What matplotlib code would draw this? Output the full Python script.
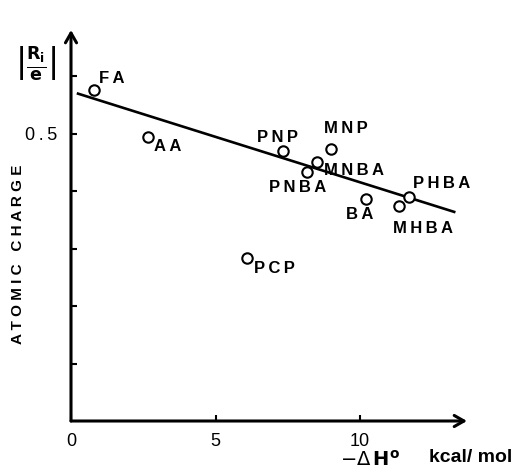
import matplotlib
matplotlib.use("Agg")
import matplotlib.pyplot as plt

plt.rcParams['font.family'] = ['Liberation Sans', 'DejaVu Sans']

############## Data ######################################
names = ['FA', 'AA', 'PNP', 'MNP', 'MNBA', 'PNBA', 'BA', 'PHBA', 'MHBA', 'PCP']
dH = [0.8, 2.65, 7.35, 9.0, 8.5, 8.15, 10.2, 11.7, 11.35, 6.1]
charge = [0.576, 0.494, 0.470, 0.473, 0.450, 0.433, 0.386, 0.390, 0.374, 0.283]

# fitted line end points
fit_x = [0.2, 13.3]
fit_y = [0.570, 0.363]

# label offsets (pixels) from each point
offsets = {'FA': (18, 11), 'AA': (20, -10), 'PNP': (-6, 13), 'MNP': (15, 21),
           'MNBA': (37, -8), 'PNBA': (-9, -15), 'BA': (-6, -15),
           'PHBA': (32, 13), 'MHBA': (24, -23), 'PCP': (27, -10)}

xticks = [0, 5, 10]
yticks = [0.1, 0.2, 0.3, 0.4, 0.5, 0.6]

def spaced(s, sep='\u2009'):
    return sep.join(s)

#################### Plot #############################
fig = plt.figure(figsize=(5.15, 4.75), dpi=100)
ax = fig.add_axes([71/515, 54/475, (467-71)/515, (421-30)/475])
ax.set_xlim(0, 13.7)
ax.set_ylim(0, 0.68)

for s in ax.spines.values():
    s.set_visible(False)

# axes drawn as arrows
arrow = dict(arrowstyle='->,head_length=0.7,head_width=0.4', lw=2.2, color='black',
             shrinkA=0, shrinkB=0)
ax.annotate('', xy=(1, 0), xytext=(0, 0), xycoords='axes fraction', arrowprops=arrow)
ax.annotate('', xy=(0, 1), xytext=(0, 0), xycoords='axes fraction', arrowprops=arrow)

ax.plot(fit_x, fit_y, color='black', lw=1.9, solid_capstyle='butt')
ax.plot(dH, charge, 'o', ms=7.5, mfc='white', mec='black', mew=1.5, zorder=3)

for n, x, y in zip(names, dH, charge):
    dx, dy = offsets[n]
    ax.annotate(spaced(n), (x, y), xytext=(dx, dy), textcoords='offset pixels',
                ha='center', va='center', fontsize=12, fontweight='bold')

ax.set_xticks(xticks)
ax.set_xticklabels(['0', '5', '10'], fontsize=13)
ax.set_yticks(yticks)
ax.set_yticklabels(['', '', '', '', spaced('0.5'), ''], fontsize=13)
ax.tick_params(axis='both', direction='in', length=4, width=1.5)
ax.tick_params(axis='x', pad=9)
ax.tick_params(axis='y', pad=10)

# axis titles
fig.text(18/515, 1 - 254/475, 'A T O M I C   C H A R G E', rotation=90, ha='center', va='center',
         fontsize=11, fontweight='bold')
fig.text(36/515, 1 - 63/475, r'$\left|\frac{\mathbf{R_i}}{\mathbf{e}}\right|$', ha='center', va='center',
         fontsize=18)
fig.text(370/515, 1 - 460/475, r'$-\Delta\,\mathbf{H}^{\mathbf{o}}$', ha='center', va='center', fontsize=14)
fig.text(471/515, 1 - 458/475, 'kcal/ mol', ha='center', va='center', fontsize=14, fontweight='bold')

plt.savefig('out.png', dpi=100)
